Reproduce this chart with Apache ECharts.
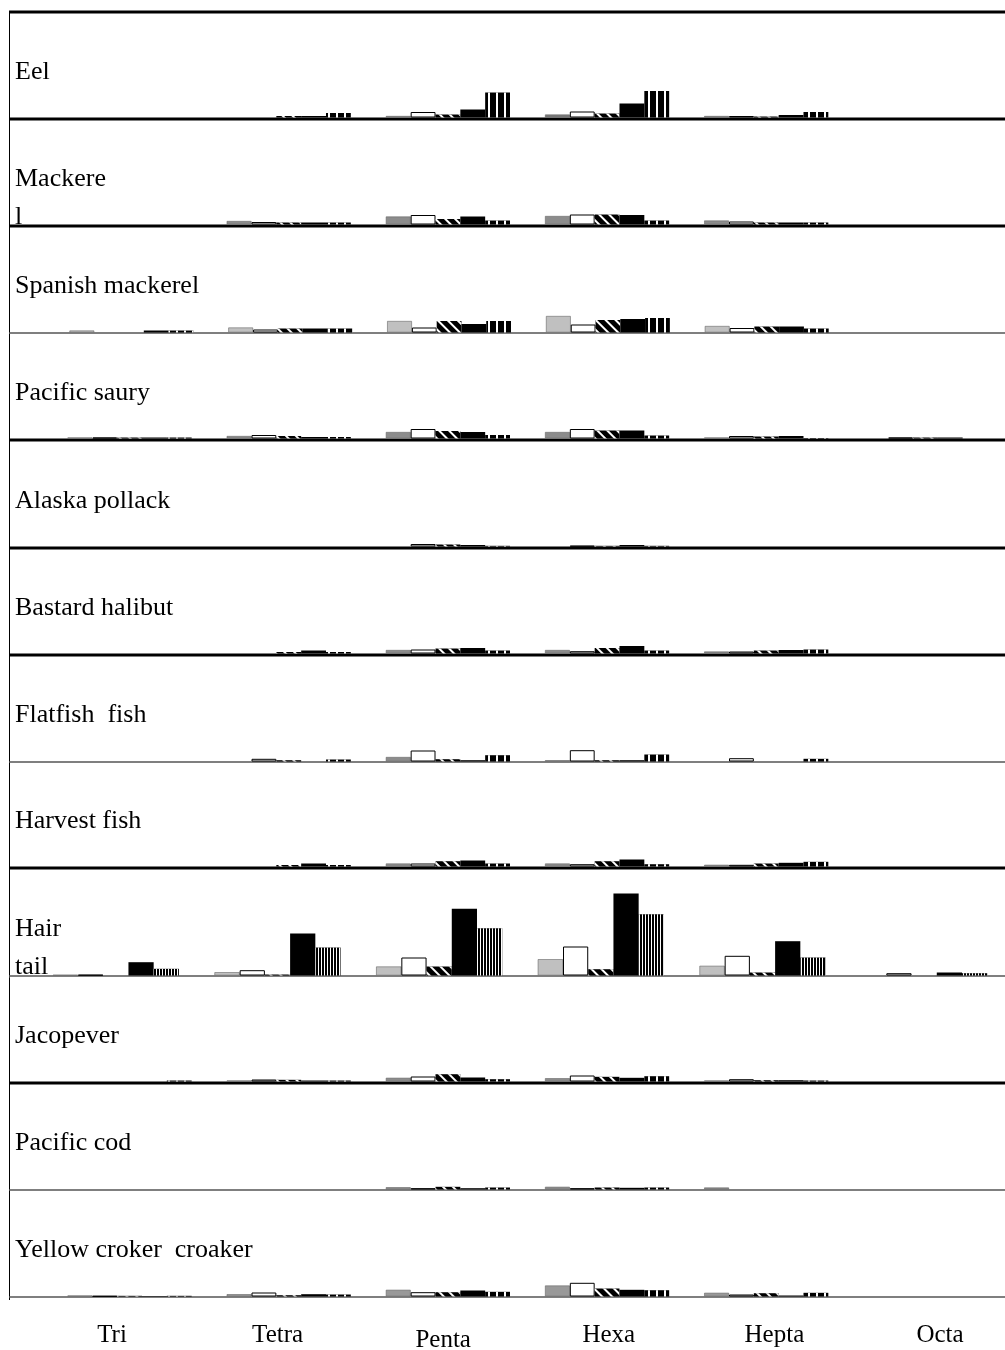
<!DOCTYPE html>
<html>
<head>
<meta charset="utf-8">
<title>Fish panels</title>
<script src="https://cdn.jsdelivr.net/npm/echarts@6/dist/echarts.min.js"></script>
<style>
  html, body { margin: 0; padding: 0; background: #fff; }
  #main { width: 1005px; height: 1350px; }
</style>
</head>
<body>
<div id="main"></div>
<script>
// categories on the x axis
const categories = ['Tri', 'Tetra', 'Penta', 'Hexa', 'Hepta', 'Octa'];

// panel names, top to bottom
const species = ['Eel', 'Mackere\nl', 'Spanish mackerel', 'Pacific saury', 'Alaska pollack',
  'Bastard halibut', 'Flatfish  fish', 'Harvest fish', 'Hair\ntail', 'Jacopever',
  'Pacific cod', 'Yellow croker  croaker'];

// one row per category, 5 bars per row (gray, white, hatched, black, striped)
const eel = [[0,0,0,0,0],[0,0,1.5,1.5,4.5],[1.5,5.5,3,8,25],[3,6,4,14,26.5],[1.5,1.5,1,2.5,5.5],[0,0,0,0,0]];
const mackerel = [[0,0,0,0,0],[3.5,2.5,2,2,2],[8,9.5,5.5,8,4],[8.5,10,10,9.5,4],[4,3,2,2,2],[0,0,0,0,0]];
const spanishMackerel = [[2,0,0,2,2],[5,3,4,4,4],[11.5,5,11.5,8.5,11.5],[16.5,8,12.5,13.5,14.5],[6.5,4.5,6,6,4],[0,0,0,0,0]];
const pacificSaury = [[1,1,1,1,1],[2.5,3.5,2.5,1.5,1.5],[6.5,9.5,7.5,6.5,3.5],[6.5,9.5,8,8,3],[1,2.5,2,2.5,0.5],[0,1,1,1,0]];
const alaskaPollack = [[0,0,0,0,0],[0,0,0,0,0],[0,2.5,2,1.5,0.7],[0,0.7,0.7,1.5,0.7],[0,0,0,0,0],[0,0,0,0,0]];
const bastardHalibut = [[0,0,0,0,0],[0,0,1.5,3,1.5],[3.5,4,5,5.5,3],[3.5,2.3,5.5,7.5,3],[2,2,3,3.5,4],[0,0,0,0,0]];
const flatfish = [[0,0,0,0,0],[0,2.7,1.3,0,2],[4.5,11,2.3,1.3,6.3],[1.3,11.3,1.3,1.3,7],[0,3.3,0,0,2.7],[0,0,0,0,0]];
const harvestFish = [[0,0,0,0,0],[0,0,1.5,3,1.5],[3,3,5.3,6,3],[3,2.3,5.3,7,2.3],[1.7,1.7,3,3.7,4.7],[0,0,0,0,0]];
const hairTail = [[0.7,0.7,0,13.3,6.7],[3.3,5.3,1,42,28],[9,18,9,66.7,47.3],[16.3,29,6.3,82,61.3],[9.7,19.7,3,34.3,18],[0,2.3,0,3,2.3]];
const jacopever = [[0,0,0,0,1],[1,2,1.7,1,1],[3.7,5,7.3,4,2.3],[3.3,6,4.7,3.7,5.3],[1,2.3,1.3,1.3,1],[0,0,0,0,0]];
const pacificCod = [[0,0,0,0,0],[0,0,0,0,0],[2.3,1.3,2.7,1.3,2],[2.7,1.3,2,1.7,2],[2,0,0,0,0],[0,0,0,0,0]];
const yellowCroaker = [[1,0.5,0.7,0.5,0.7],[2.3,4,1.3,2.3,2],[6.7,4.3,4.3,6,4.7],[11,13.7,8,6.7,6.3],[3.7,2,3.3,1,3.7],[0,0,0,0,0]];

const panels = [eel, mackerel, spanishMackerel, pacificSaury, alaskaPollack, bastardHalibut,
  flatfish, harvestFish, hairTail, jacopever, pacificCod, yellowCroaker];

// layout of the panels
const baseY = [119, 226, 333, 440, 548, 655, 762, 868, 976, 1083, 1190, 1297];
const thickBase = [1, 1, 0, 1, 1, 1, 0, 1, 0, 1, 0, 0];
const gridLeft = [50, 50, 52, 50, 50, 50, 50, 50, 35, 50, 50, 50];
const gridWidth = [955, 955, 963, 955, 955, 955, 955, 955, 972, 955, 955, 955];
const grayTone = ['#7a7a7a', '#8c8c8c', '#c0c0c0', '#8c8c8c', '#8c8c8c', '#8c8c8c',
  '#8c8c8c', '#8c8c8c', '#c0c0c0', '#8c8c8c', '#8c8c8c', '#999999'];
const serif = 'Liberation Serif';

function barStyle(k, p) {
  if (k === 0) return { color: grayTone[p], borderColor: '#666', borderWidth: 0.6 };
  if (k === 1) return { color: '#fff', borderColor: '#000', borderWidth: 1 };
  if (k === 2) return {
    color: '#000',
    decal: { symbol: 'rect', symbolSize: 1, color: '#fff', dashArrayX: [1, 0], dashArrayY: [2, 5], rotation: Math.PI / 4 }
  };
  if (k === 3) return { color: '#000' };
  const dense = p === 8;
  return {
    color: '#000',
    decal: { symbol: 'rect', symbolSize: 1, color: '#fff', dashArrayX: dense ? [1, 2] : [2, 6], dashArrayY: [1, 0] }
  };
}

const grids = [], xAxes = [], yAxes = [], series = [], titles = [];
const graphics = [
  { type: 'line', shape: { x1: 9, y1: 12, x2: 1005, y2: 12 }, style: { stroke: '#000', lineWidth: 3 } },
  { type: 'line', shape: { x1: 9.5, y1: 11, x2: 9.5, y2: 1300 }, style: { stroke: '#000', lineWidth: 1 } }
];

panels.forEach((rows, p) => {
  const lift = thickBase[p] ? 1.5 : 0.5;
  grids.push({ left: gridLeft[p], width: gridWidth[p], top: baseY[p] - lift - 100, height: 100 });
  xAxes.push({ gridIndex: p, type: 'category', data: categories, show: false });
  yAxes.push({ gridIndex: p, type: 'value', min: 0, max: 100, show: false });
  for (let k = 0; k < 5; k++) {
    series.push({
      type: 'bar', xAxisIndex: p, yAxisIndex: p, silent: true,
      barGap: '0%', barCategoryGap: '22%',
      data: rows.map(r => (r[k] ? r[k] : null)),
      itemStyle: barStyle(k, p)
    });
  }
  titles.push({
    text: species[p], left: 15, top: baseY[p] - 66, padding: 0,
    textStyle: { fontFamily: serif, fontSize: 26, fontWeight: 'normal', color: '#000', lineHeight: 38 }
  });
  graphics.push({
    type: 'line',
    shape: { x1: 9, y1: baseY[p], x2: 1005, y2: baseY[p] },
    style: { stroke: thickBase[p] ? '#000' : '#555', lineWidth: thickBase[p] ? 3 : 1.3 }
  });
});

// bottom category labels
const labelGrid = grids.length;
grids.push({ left: 112, width: 828, top: 1290, height: 20 });
xAxes.push({
  gridIndex: labelGrid, type: 'category', data: categories, boundaryGap: false,
  axisLine: { show: false }, axisTick: { show: false },
  axisLabel: {
    margin: 28, fontFamily: serif, fontSize: 25, color: '#000',
    formatter: v => (v === 'Penta' ? '{low|' + v + '}' : v),
    rich: { low: { fontFamily: serif, fontSize: 25, color: '#000', padding: [5, 0, 0, 0] } }
  }
});
yAxes.push({ gridIndex: labelGrid, type: 'value', show: false });

const chart = echarts.init(document.getElementById('main'), null, { renderer: 'canvas' });
chart.setOption({
  animation: false,
  backgroundColor: '#fff',
  title: titles,
  grid: grids,
  xAxis: xAxes,
  yAxis: yAxes,
  series: series,
  graphic: graphics
});
window.addEventListener('resize', chart.resize);
</script>
</body>
</html>
